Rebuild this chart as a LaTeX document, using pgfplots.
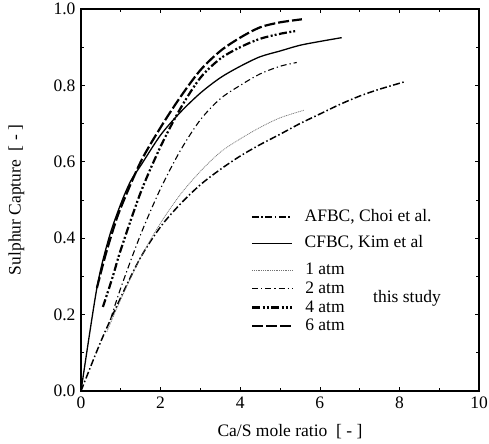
\documentclass[border=0pt]{standalone}
\usepackage{fontspec}
\setmainfont{Liberation Serif}
\usepackage{pgfplots}
\pgfplotsset{compat=1.18}

\tikzset{
  afbc/.style={black, line width=1.5bp, dash pattern=on 7bp off 2.5bp on 1.5bp off 2.5bp},
  cfbc/.style={black, line width=1.3bp},
  atmA/.style={black!55, line width=0.7bp, dash pattern=on 1bp off 0.8bp},
  atmB/.style={black, line width=1.1bp, dash pattern=on 6bp off 3bp on 1.2bp off 3bp},
  atmD/.style={black, line width=2.2bp, dash pattern=on 8bp off 2.5bp on 2bp off 2bp on 2bp off 2.5bp},
  atmF/.style={black, line width=2.2bp, dash pattern=on 11bp off 3bp},
}
\pgfplotsset{
  base/.style={
    scale only axis, width=398bp, height=382bp,
    xmin=0, xmax=10, ymin=0, ymax=1,
    font=\fontsize{17.5bp}{20bp}\selectfont,
  },
  leg/.style={
    legend cell align=left,
    legend image code/.code={\draw[##1] (0bp,0bp) -- (40bp,0bp);},
    legend style={draw=none, fill=none, inner sep=0pt,
      nodes={inner sep=0pt, text height=12bp, text depth=3bp},
      /tikz/every odd column/.append style={column sep=12bp}},
  },
}

\begin{document}
\begin{tikzpicture}
\begin{axis}[
  base, leg,
  axis line style={line width=1.1bp},
  xtick={0,2,4,6,8,10}, ytick={0,0.2,0.4,0.6,0.8,1.0},
  minor x tick num=1, minor y tick num=1,
  major tick length=4bp, minor tick length=3bp,
  tick style={black, line width=0.6bp},
  tick align=inside,
  /pgf/number format/assume math mode=true,
  yticklabel={\pgfmathprintnumber[fixed, fixed zerofill, precision=1]{\tick}},
  xticklabel={\pgfmathprintnumber[fixed, precision=0]{\tick}},
  yticklabel style={xshift=-2bp},
  xticklabel style={yshift=-2bp},
  xlabel={Ca/S mole ratio\ \ [ - ]},
  ylabel={Sulphur Capture\ \ [ - ]},
  every axis x label/.style={at={(axis description cs:0.525,-0.105)}, anchor=center},
  every axis y label/.style={at={(axis description cs:-0.162,0.5)}, rotate=90, anchor=center},
  legend style={at={(axis cs:4.27,0.243)}, anchor=west, row sep=3.7bp},
]
\coordinate (O) at (rel axis cs:0,0);
\addplot[afbc, smooth, forget plot] coordinates {
  (0,0) (0.5,0.13) (1,0.245) (1.5,0.35) (2,0.43) (2.5,0.49) (3,0.54) (3.5,0.58)
  (4,0.615) (4.5,0.645) (5,0.672) (5.5,0.70) (6,0.725) (6.5,0.75) (7,0.772)
  (7.5,0.79) (8.15,0.81)
};
\addplot[cfbc, smooth, forget plot] coordinates {
  (0,0) (0.4,0.27) (0.7,0.40) (1,0.49) (1.25,0.55) (1.5,0.59)
  (2,0.67) (2.5,0.73) (3,0.78) (3.5,0.82) (4,0.85) (4.5,0.875) (5,0.89)
  (5.5,0.905) (6,0.915) (6.55,0.925)
};
\addplot[atmA, smooth] coordinates {
  (0.65,0.155) (1,0.24) (1.5,0.35) (2,0.44) (2.5,0.515) (3,0.575) (3.5,0.625)
  (4,0.66) (4.5,0.69) (5,0.715) (5.6,0.735)
};
\addlegendentry{1 atm}
\addplot[atmB, smooth] coordinates {
  (0.75,0.19) (1,0.27) (1.5,0.41) (2,0.53) (2.5,0.63) (3,0.71) (3.5,0.765)
  (4,0.80) (4.5,0.83) (5,0.85) (5.42,0.86)
};
\addlegendentry{2 atm}
\addplot[atmD, smooth] coordinates {
  (0.55,0.22) (0.8,0.30) (1,0.37) (1.5,0.52) (2,0.64) (2.5,0.74) (3,0.82)
  (3.5,0.87) (4,0.90) (4.5,0.922) (5,0.935) (5.38,0.942)
};
\addlegendentry{4 atm}
\addplot[atmF, smooth] coordinates {
  (0.4,0.27) (0.6,0.35) (0.8,0.42) (1,0.48) (1.5,0.60) (2,0.69) (2.5,0.77)
  (3,0.84) (3.5,0.89) (4,0.925) (4.5,0.952) (5,0.965) (5.55,0.973)
};
\addlegendentry{6 atm}
\node[anchor=center] at (axis cs:8.19,0.243) {this study};
\end{axis}
\begin{axis}[
  base, leg, hide axis,
  legend style={at={(axis cs:4.27,0.421)}, anchor=west, row sep=11bp},
]
\addlegendimage{afbc}
\addlegendentry{AFBC, Choi et al.}
\addlegendimage{cfbc}
\addlegendentry{CFBC, Kim et al}
\end{axis}
\pgfresetboundingbox
\path (O) ++(-81bp,-53bp) rectangle ++(489bp,444bp);
\end{tikzpicture}
\end{document}
